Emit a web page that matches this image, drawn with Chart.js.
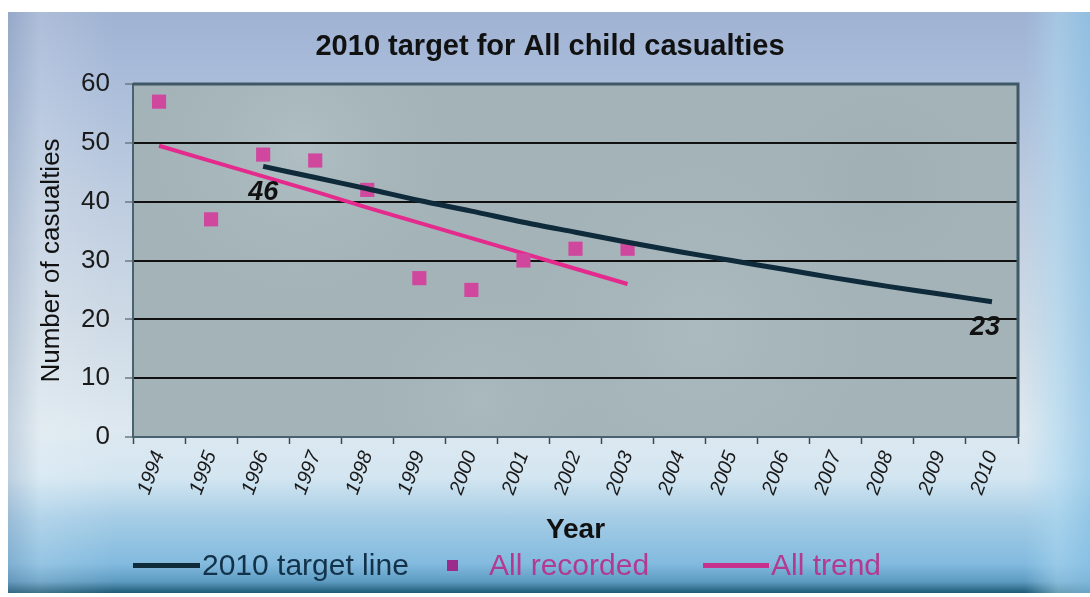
<!DOCTYPE html>
<html>
<head>
<meta charset="utf-8">
<script src="https://cdn.jsdelivr.net/npm/chart.js@4/dist/chart.umd.min.js"></script>
<style>
  html, body { margin: 0; padding: 0; background: #ffffff; }
  #wrap { position: relative; width: 1090px; height: 597px; overflow: hidden; }
  #frame {
    position: absolute; left: 8px; top: 12px; width: 1082px; height: 581px;
    background:
      linear-gradient(90deg, rgba(120,140,170,0.25) 0%, rgba(255,255,255,0.15) 3%, rgba(255,255,255,0) 10%, rgba(255,255,255,0) 94%, rgba(170,215,240,0.55) 97%, rgba(140,195,230,0.7) 100%),
      linear-gradient(180deg, #9fb2d2 0%, #a8bbd9 10%, #bccbdf 30%, #cfdbe6 55%, #dde8f0 72%, #d4e6f1 80%, #a6cde6 87%, #82bade 95%, #5f9cc2 98%, #1d5a76 100%);
  }
  #chart { position: absolute; left: 0; top: 0; }
  #legend { position: absolute; left: 0; top: 548px; width: 1090px; height: 36px;
    font-family: 'Liberation Sans', Arial, sans-serif; font-size: 30px; }
  .li { position: absolute; top: 0; line-height: 34px; white-space: nowrap; }
  .ln { position: absolute; height: 5px; top: 15px; }
  .sq { position: absolute; width: 11px; height: 11px; top: 12px; }
</style>
</head>
<body>
<div id="wrap">
  <div id="frame"></div>
  <canvas id="chart" width="1090" height="597"></canvas>
  <div id="legend">
    <div class="ln" style="left:133px;width:67px;background:#0f2a3a;"></div>
    <div class="li" style="left:202px;color:#12324a;">2010 target line</div>
    <div class="sq" style="left:447px;background:#9b2b8d;"></div>
    <div class="li" style="left:489px;color:#b23a90;">All recorded</div>
    <div class="ln" style="left:703px;width:66px;background:#c8328f;"></div>
    <div class="li" style="left:771px;color:#b23a90;">All trend</div>
  </div>
</div>
<script>
const years = ['1994','1995','1996','1997','1998','1999','2000','2001','2002','2003','2004','2005','2006','2007','2008','2009','2010'];
const targetLine = [null, null, 46.0, 44.1, 42.2, 40.2, 38.4, 36.5, 34.8, 33.1, 31.5, 30.0, 28.5, 27.0, 25.6, 24.3, 23.0];
const allRecorded = [57, 37, 48, 47, 42, 27, 25, 30, 32, 32, null, null, null, null, null, null, null];
const allTrend = [49.5, 46.9, 44.3, 41.7, 39.0, 36.4, 33.8, 31.2, 28.6, 26.0, null, null, null, null, null, null, null];
const yTicks = [0, 10, 20, 30, 40, 50, 60];
const targetLabels = [{ index: 2, text: '46' }, { index: 16, text: '23' }];
const chartTitle = '2010 target for All child casualties';

const FONT = "'Liberation Sans', Arial, sans-serif";

const plotBg = {
  id: 'plotBg',
  beforeDraw(chart) {
    const { ctx, chartArea: a } = chart;
    ctx.save();
    ctx.fillStyle = '#a3b3b8';
    ctx.fillRect(a.left, a.top, a.right - a.left, a.bottom - a.top);
    const blobs = [[300, 150, 180, 'rgba(200,212,216,0.35)'], [700, 330, 220, 'rgba(190,204,208,0.30)'], [880, 180, 160, 'rgba(150,166,172,0.30)'], [480, 400, 140, 'rgba(185,198,203,0.3)']];
    blobs.forEach(([x, y, r, c]) => {
      const g = ctx.createRadialGradient(x, y, 0, x, y, r);
      g.addColorStop(0, c); g.addColorStop(1, 'rgba(163,179,184,0)');
      ctx.fillStyle = g;
      ctx.fillRect(a.left, a.top, a.right - a.left, a.bottom - a.top);
    });
    // chart title
    ctx.font = "bold 29px " + FONT;
    ctx.fillStyle = '#111111';
    ctx.textAlign = 'center';
    ctx.textBaseline = 'middle';
    ctx.fillText(chartTitle, 550, 47);
    ctx.restore();
  },
  beforeDatasetsDraw(chart) {
    const { ctx, chartArea: a } = chart;
    ctx.save();
    ctx.strokeStyle = '#3e5866';
    ctx.lineWidth = 3;
    ctx.beginPath();
    ctx.moveTo(a.left, a.top);
    ctx.lineTo(a.right, a.top);
    ctx.lineTo(a.right, a.bottom);
    ctx.stroke();
    ctx.restore();
  }
};

const valueLabels = {
  id: 'valueLabels',
  afterDatasetsDraw(chart) {
    const { ctx, scales } = chart;
    ctx.save();
    ctx.font = "italic bold 27px " + FONT;
    ctx.fillStyle = '#111111';
    ctx.textAlign = 'center';
    ctx.textBaseline = 'middle';
    targetLabels.forEach(l => {
      const x = scales.x.getPixelForValue(l.index);
      const y = scales.y.getPixelForValue(targetLine[l.index]);
      ctx.fillText(l.text, x - 7 * (l.index === 16 ? 1 : 0), y + 26);
    });
    ctx.restore();
  }
};

new Chart(document.getElementById('chart'), {
  type: 'line',
  data: {
    labels: years,
    datasets: [
      { label: '2010 target line', data: targetLine, borderColor: '#0f2a3a', borderWidth: 5, pointRadius: 0, tension: 0.3, spanGaps: false },
      { label: 'All recorded', data: allRecorded, showLine: false, pointStyle: 'rect', pointRadius: 10, pointBackgroundColor: '#d0489e', pointBorderWidth: 0, borderColor: '#d0489e' },
      { label: 'All trend', data: allTrend, borderColor: '#e42a8c', borderWidth: 4, pointRadius: 0, tension: 0 }
    ]
  },
  options: {
    responsive: false,
    animation: false,
    events: [],
    layout: { padding: { top: 84, left: 0, right: 72, bottom: 50 } },
    plugins: {
      legend: { display: false },
      tooltip: { enabled: false },
      title: { display: false }
    },
    scales: {
      x: {
        offset: true,
        afterFit(s) { s.height = 110; },
        grid: { display: true, drawOnChartArea: false, offset: true, drawTicks: true, tickLength: 7, tickColor: '#3a4a50', tickWidth: 1.5 },
        border: { display: true, color: '#4a6270', width: 2 },
        ticks: { color: '#1a1a1a', font: { family: FONT, size: 20, style: 'italic' }, minRotation: 70, maxRotation: 70, padding: 4, autoSkip: false },
        title: { display: true, text: 'Year', color: '#111111', font: { family: FONT, size: 28, weight: 'bold' }, padding: { top: 0, bottom: 0 } }
      },
      y: {
        min: 0, max: 60,
        afterFit(s) { s.width = 133; },
        afterBuildTicks(s) { s.ticks = yTicks.map(v => ({ value: v })); },
        grid: { color: '#111111', lineWidth: 2, drawTicks: true, tickLength: 8, tickColor: '#6b7b82', tickWidth: 1.5 },
        border: { display: true, color: '#4a6270', width: 2 },
        ticks: { color: '#1a1a1a', font: { family: FONT, size: 26 }, padding: 15 },
        title: { display: true, text: 'Number of casualties', color: '#111111', font: { family: FONT, size: 26 }, padding: { top: 36, bottom: 0 } }
      }
    }
  },
  plugins: [plotBg, valueLabels]
});
</script>
</body>
</html>
